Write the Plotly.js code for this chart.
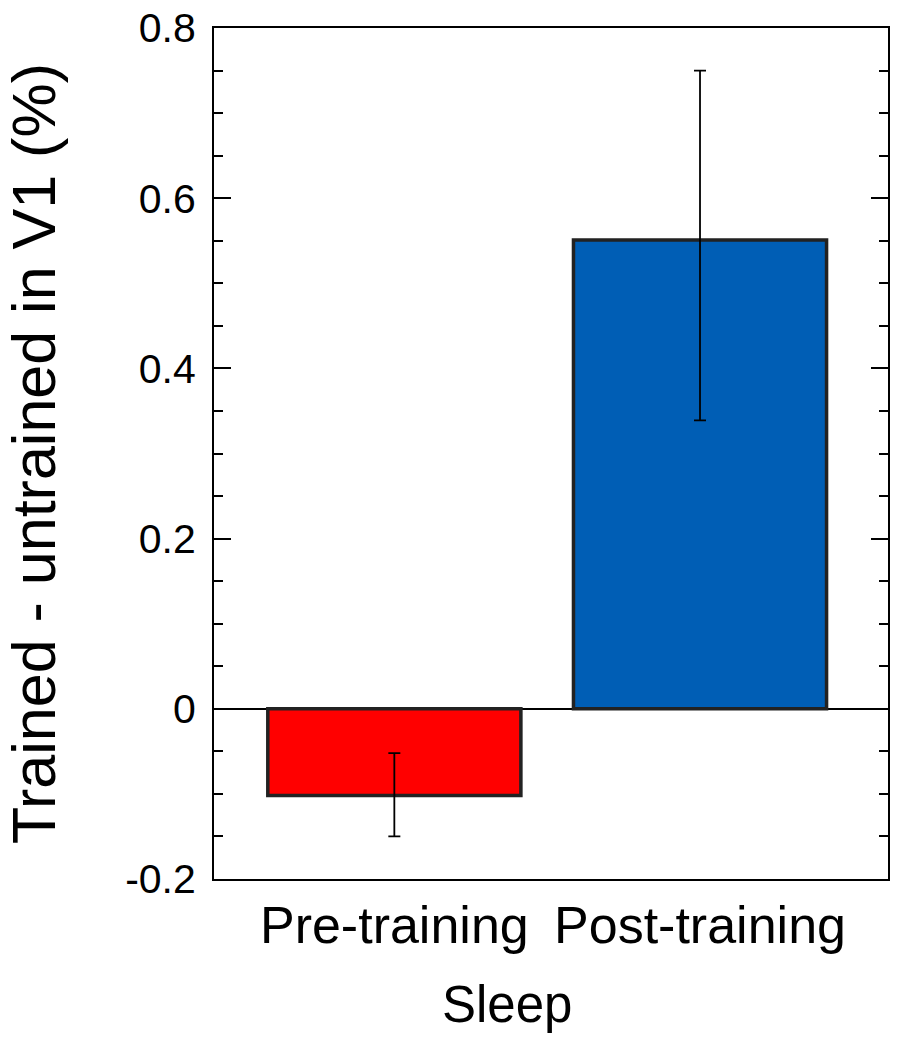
<!DOCTYPE html>
<html>
<head>
<meta charset="utf-8">
<script src="https://cdn.plot.ly/plotly-3.0.1.min.js"></script>
<style>html,body{margin:0;padding:0;background:#fff;}#chart{width:897px;height:1050px;}</style>
</head>
<body>
<div id="chart"></div>
<script>
const categories = ["Pre-training", "Post-training"];
const values = [-0.102, 0.551];
const errPlus = [0.05, 0.199];
const errMinus = [0.048, 0.212];
const barColors = ["#FF0000", "#005EB5"];
const yTickVals = [-0.2, 0, 0.2, 0.4, 0.6, 0.8];
const yTickText = ["-0.2", "0", "0.2", "0.4", "0.6", "0.8"];
const yTitle = "Trained - untrained in V1 (%)";
const xTitle = "Sleep";

const font = "Liberation Sans, Arial, Helvetica, sans-serif";

const trace = {
  type: "bar",
  x: categories,
  y: values,
  width: 0.828,
  marker: { color: barColors, line: { color: "#222222", width: 3.5 } },
  error_y: {
    type: "data", symmetric: false,
    array: errPlus, arrayminus: errMinus,
    color: "#000", thickness: 1.8, width: 6
  },
  hoverinfo: "none"
};

const layout = {
  width: 897, height: 1050,
  margin: { l: 214, r: 9, t: 28, b: 171 },
  paper_bgcolor: "#fff", plot_bgcolor: "#fff",
  showlegend: false,
  font: { family: font, color: "#000" },
  xaxis: {
    type: "category",
    range: [-0.59, 1.615],
    showline: true, linecolor: "#000", linewidth: 2, mirror: true,
    ticks: "", showgrid: false, zeroline: false,
    tickfont: { family: font, size: 52, color: "#000" },
    ticklabelstandoff: 0
  },
  yaxis: {
    range: [-0.2, 0.8],
    tickmode: "array", tickvals: yTickVals, ticktext: yTickText,
    ticks: "inside", ticklen: 17, tickwidth: 2, tickcolor: "#000",
    minor: { dtick: 0.05, ticks: "inside", ticklen: 9, tickwidth: 2, tickcolor: "#000", showgrid: false },
    showline: true, linecolor: "#000", linewidth: 2, mirror: "ticks",
    showgrid: false,
    zeroline: true, zerolinecolor: "#000", zerolinewidth: 1.5,
    tickfont: { family: font, size: 41, color: "#000" },
    ticklabelstandoff: 8,
    title: { text: yTitle, font: { family: font, size: 61, color: "#000" }, standoff: 58 }
  },
  annotations: [{
    text: xTitle, xref: "paper", yref: "paper",
    x: (507 - 214) / (888 - 214), y: 0, yshift: -95,
    xanchor: "center", yanchor: "top", showarrow: false,
    font: { family: font, size: 51, color: "#000" }
  }]
};

Plotly.newPlot("chart", [trace], layout, { staticPlot: true, displayModeBar: false });
</script>
</body>
</html>
